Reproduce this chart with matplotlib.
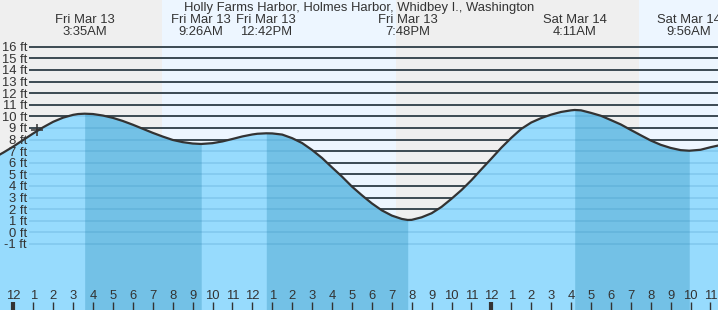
import numpy as np
import matplotlib.pyplot as plt
import matplotlib.transforms as mtransforms

plt.rcParams['font.family'] = ['Liberation Sans', 'DejaVu Sans']

title = 'Holly Farms Harbor, Holmes Harbor, Whidbey I., Washington'

# hours since midnight Fri Mar 13, tide height in ft
hours = [-1, -0.5, 0, 0.5, 1, 1.5, 2, 2.5, 3, 3.25, 3.583,
         4, 4.5, 5, 5.5, 6, 6.5, 7, 7.5, 8, 8.5, 9, 9.433,
         10, 10.5, 11, 11.5, 12, 12.25, 12.7,
         13, 13.5, 14, 14.5, 15, 15.5, 16, 16.5, 17, 17.5, 18, 18.5,
         19, 19.5, 19.8,
         20, 20.5, 21, 21.5, 22, 22.5, 23, 23.5, 24, 24.5, 25, 25.5,
         26, 26.5, 27, 27.5, 28, 28.183,
         28.5, 29, 29.5, 30, 30.5, 31, 31.5, 32, 32.5, 33, 33.5, 33.933,
         34.5, 35, 35.5, 36]
feet = [6.4, 6.88, 7.4, 7.97, 8.53, 9.06, 9.53, 9.89, 10.13, 10.2, 10.23,
        10.2, 10.07, 9.87, 9.6, 9.28, 8.93, 8.58, 8.26, 7.97, 7.78, 7.66, 7.62,
        7.69, 7.84, 8.05, 8.27, 8.44, 8.5, 8.54,
        8.53, 8.43, 8.12, 7.7, 7.1, 6.41, 5.6, 4.81, 3.95, 3.2, 2.5, 1.9,
        1.45, 1.16, 1.07,
        1.08, 1.3, 1.65, 2.2, 2.9, 3.65, 4.5, 5.44, 6.36, 7.3, 8.15, 8.92,
        9.47, 9.85, 10.15, 10.38, 10.52, 10.55,
        10.52, 10.3, 10.05, 9.68, 9.3, 8.83, 8.37, 7.92, 7.55, 7.28, 7.09, 7.04,
        7.12, 7.34, 7.53, 7.75]

event_hours = [3.583, 9.433, 12.7, 19.8, 28.183, 33.933]
event_labels = ['Fri Mar 13\n3:35AM', 'Fri Mar 13\n9:26AM', 'Fri Mar 13\n12:42PM',
                'Fri Mar 13\n7:48PM', 'Sat Mar 14\n4:11AM', 'Sat Mar 14\n9:56AM']
falling = [(3.583, 9.433), (12.7, 19.8), (28.183, 33.933)]
daylight = [(7.45, 19.23), (31.41, 36)]

levels = list(range(-1, 17))
level_labels = ['%d ft' % v for v in levels]

tick_hours = list(range(0, 36))
tick_labels = ['12', '1', '2', '3', '4', '5', '6', '7', '8', '9', '10', '11',
               '12', '1', '2', '3', '4', '5', '6', '7', '8', '9', '10', '11',
               '12', '1', '2', '3', '4', '5', '6', '7', '8', '9', '10', '11']
midnights = [0, 24]

now_hour, now_ft = 1.2, 8.8

x0, x1 = -0.668, 35.377
y0, y1 = -6.69, 20.03

night = '#efefef'
day = '#edf6ff'
water = '#97dbfd'
water_dark = '#73c1e6'
ink = '#333333'
fs = 9.4

fig = plt.figure(figsize=(7.18, 3.10), dpi=100)
ax = fig.add_axes([0, 0, 1, 1])
ax.set_xlim(x0, x1)
ax.set_ylim(y0, y1)
for s in ax.spines.values():
    s.set_visible(False)

ax.axvspan(x0, x1, color=night, lw=0, zorder=0)
for a, b in daylight:
    ax.axvspan(a, b, color=day, lw=0, zorder=0)

ax.hlines(levels, 0.8, x1, color=ink, lw=1.3, zorder=1)

t = np.array(hours)
f = np.array(feet)
ax.fill_between(t, f, y0, color=water, lw=0, zorder=2)
for a, b in falling:
    sel = (t >= a) & (t <= b)
    ax.fill_between(t[sel], f[sel], y0, color=water_dark, lw=0, zorder=2)

# faint level lines under water
ax.hlines(levels, 0.8, x1, color='#2a7fb0', alpha=0.18, lw=1.3, zorder=3)

ax.plot(t, f, color=ink, lw=1.6, zorder=4, solid_joinstyle='round')
ax.plot([now_hour], [now_ft], marker='+', ms=9, mew=1.1, color=ink, zorder=5)

trans = mtransforms.blended_transform_factory(ax.transData, ax.transAxes)
ax.text(0.5, 1 - 7.5 / 310, title, transform=ax.transAxes, ha='center',
        va='center', fontsize=fs, color=ink)
for h, lab in zip(event_hours, event_labels):
    ax.text(h, 1 - 26 / 310, lab, transform=trans, ha='center', va='center',
            fontsize=fs, color=ink, linespacing=1.0, zorder=6)

ax.set_xticks(tick_hours, tick_labels)
ax.tick_params(axis='x', direction='in', length=6, width=1, color=ink,
               pad=-14.5, labelsize=fs, labelcolor=ink)
for i, tk in enumerate(ax.xaxis.get_major_ticks()):
    if tick_hours[i] in midnights:
        tk.tick1line.set_markeredgewidth(3)

ax.set_yticks(levels, level_labels)
ax.tick_params(axis='y', direction='in', length=0, pad=-19.4,
               labelsize=fs, labelcolor=ink)
ax.xaxis.set_zorder(7)
ax.yaxis.set_zorder(7)

fig.savefig('out.png', dpi=100)
